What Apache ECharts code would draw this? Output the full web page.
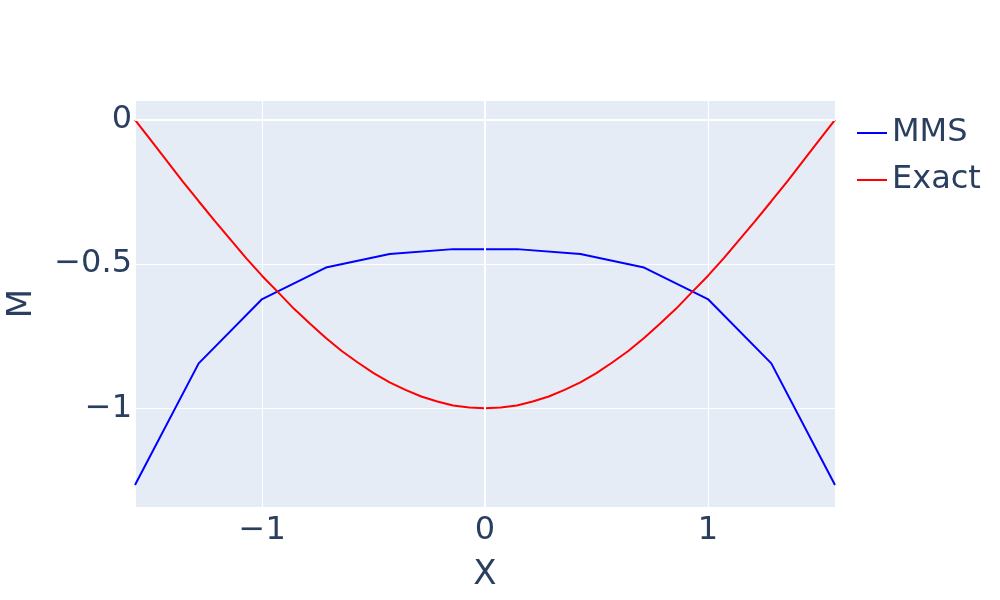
<!DOCTYPE html>
<html>
<head>
<meta charset="utf-8">
<script src="https://cdn.jsdelivr.net/npm/echarts@6/dist/echarts.min.js"></script>
<style>
    html, body { margin: 0; padding: 0; background: #fff; }
    #chart { width: 1000px; height: 600px; }
</style>
</head>
<body>
<div id="chart"></div>
<script>
    // values
    var mmsX = [-1.5708, -1.285, -1.000, -0.714, -0.428, -0.143, 0.143, 0.428, 0.714, 1.000, 1.285, 1.5708];
    var mmsY = [-1.266, -0.844, -0.621, -0.512, -0.465, -0.448, -0.448, -0.465, -0.512, -0.621, -0.844, -1.266];

    var exactX = [-1.5708, -1.499, -1.428, -1.357, -1.285, -1.214, -1.142, -1.071, -1.000, -0.928, -0.857, -0.785,
                  -0.714, -0.643, -0.571, -0.500, -0.428, -0.357, -0.286, -0.214, -0.143, -0.071, 0,
                  0.071, 0.143, 0.214, 0.286, 0.357, 0.428, 0.500, 0.571, 0.643, 0.714, 0.785,
                  0.857, 0.928, 1.000, 1.071, 1.142, 1.214, 1.285, 1.357, 1.428, 1.499, 1.5708];
    var exactY = [0, -0.071, -0.142, -0.213, -0.282, -0.349, -0.415, -0.480, -0.541, -0.598, -0.655, -0.707,
                  -0.756, -0.801, -0.841, -0.878, -0.910, -0.936, -0.959, -0.976, -0.990, -0.997, -1.000,
                  -0.997, -0.990, -0.976, -0.959, -0.936, -0.910, -0.878, -0.841, -0.801, -0.756, -0.707,
                  -0.655, -0.598, -0.541, -0.480, -0.415, -0.349, -0.282, -0.213, -0.142, -0.071, 0];

    var xRange = [-1.5708, 1.5708];
    var yRange = [-1.342, 0.069];

    var fontFamily = '"DejaVu Sans", Verdana, sans-serif';
    var textColor = '#2a3f5f';

    function pairs(xs, ys) {
        return xs.map(function (x, i) { return [x, ys[i]]; });
    }
    function fmt(v) {
        if (Math.abs(v - Math.round(v * 2) / 2) > 1e-6) return '';
        return String(v).replace('-', '\u2212');
    }

    var myChart = echarts.init(document.getElementById('chart'), null, {renderer: 'canvas'});
    var option = {
        backgroundColor: '#ffffff',
        animation: false,
        textStyle: {fontFamily: fontFamily, color: textColor},
        grid: {
            left: 135, right: 165, top: 100, bottom: 93,
            containLabel: false, outerBoundsMode: 'none',
            show: true, backgroundColor: '#E5ECF6', borderWidth: 0
        },
        legend: {
            orient: 'vertical',
            left: 851,
            top: 109,
            itemWidth: 30,
            itemHeight: 20,
            itemGap: 9,
            data: ['MMS', 'Exact'],
            itemStyle: {opacity: 0},
            textStyle: {fontSize: 32, color: textColor, fontFamily: fontFamily, lineHeight: 38}
        },
        xAxis: {
            type: 'value',
            min: xRange[0],
            max: xRange[1],
            splitNumber: 3,
            name: 'X',
            nameLocation: 'middle',
            nameGap: 51,
            nameTextStyle: {fontSize: 34, color: textColor, fontFamily: fontFamily},
            axisLine: {show: false},
            axisTick: {show: false},
            axisLabel: {fontSize: 32, color: textColor, margin: 8, formatter: fmt, showMinLabel: false, showMaxLabel: false},
            splitLine: {show: true, lineStyle: {color: '#ffffff', width: 1}}
        },
        yAxis: {
            type: 'value',
            min: yRange[0],
            max: yRange[1],
            splitNumber: 3,
            name: 'M',
            nameLocation: 'middle',
            nameGap: 96,
            nameTextStyle: {fontSize: 34, color: textColor, fontFamily: fontFamily},
            axisLine: {show: false},
            axisTick: {show: false},
            axisLabel: {fontSize: 32, color: textColor, margin: 3, formatter: fmt, showMinLabel: false, showMaxLabel: false},
            splitLine: {show: true, lineStyle: {color: '#ffffff', width: 1}}
        },
        series: [
            {
                name: 'zero',
                type: 'line',
                data: [[0, 0]],
                symbol: 'none',
                z: 1,
                silent: true,
                lineStyle: {opacity: 0},
                markLine: {
                    silent: true,
                    symbol: 'none',
                    label: {show: false},
                    lineStyle: {color: '#ffffff', width: 2, type: 'solid'},
                    data: [{xAxis: 0}, {yAxis: 0}]
                }
            },
            {
                name: 'MMS',
                type: 'line',
                data: pairs(mmsX, mmsY),
                symbol: 'none',
                z: 3,
                color: '#0000ff',
                lineStyle: {color: '#0000ff', width: 2}
            },
            {
                name: 'Exact',
                type: 'line',
                data: pairs(exactX, exactY),
                symbol: 'none',
                z: 3,
                color: '#ff0000',
                lineStyle: {color: '#ff0000', width: 2}
            }
        ]
    };
    option && myChart.setOption(option);
</script>
</body>
</html>
